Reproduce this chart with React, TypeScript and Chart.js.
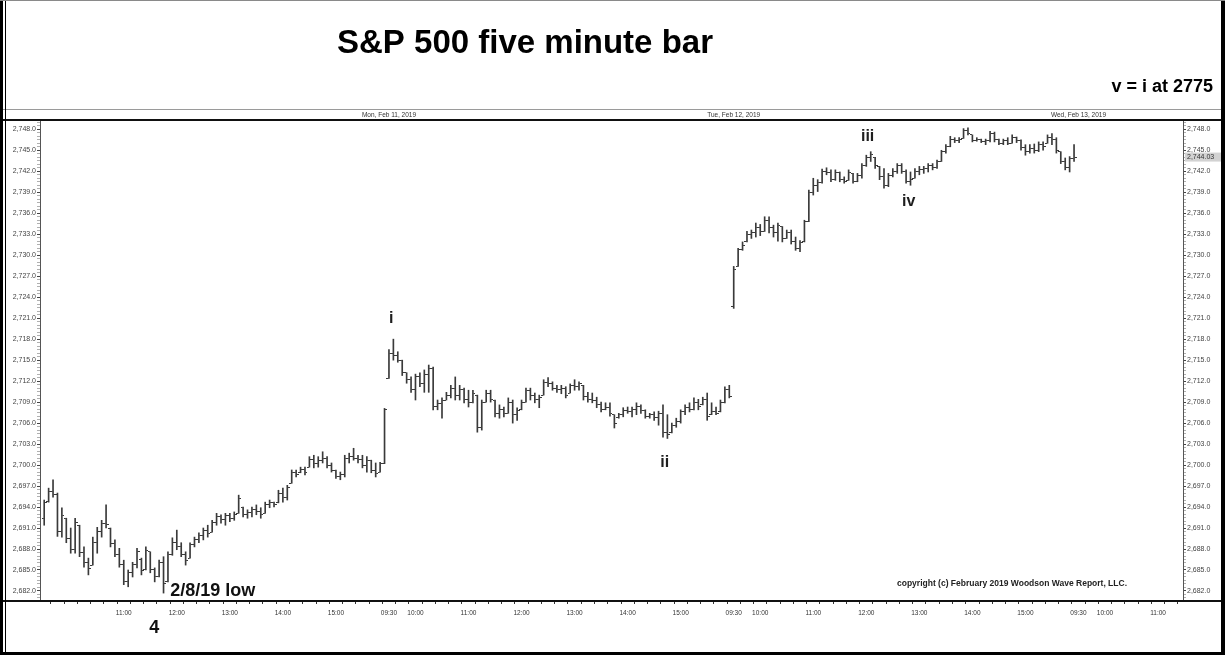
import React, { useEffect, useRef } from 'react';
import { Chart, registerables } from 'chart.js';

Chart.register(...registerables);

// ---------- data (S&P 500, five minute bars) ----------
const DAY_NAMES = ['Fri, Feb 8, 2019', 'Mon, Feb 11, 2019', 'Tue, Feb 12, 2019', 'Wed, Feb 13, 2019'];
const BARS_PER_DAY = 78;
const SESSION_LABELS: Record<number, string> = { 0: '09:30', 6: '10:00', 18: '11:00', 30: '12:00', 42: '13:00', 54: '14:00', 66: '15:00' };

const FEB08_HIGH = [
  2695.0, 2696.7, 2697.9, 2696.0, 2693.9, 2692.4, 2691.0, 2692.4, 2691.4, 2688.3,
  2686.7, 2689.7, 2691.1, 2692.1, 2694.3, 2691.0, 2689.3, 2688.1, 2686.4, 2685.0,
  2686.1, 2688.1, 2686.7, 2688.3, 2687.6, 2685.3, 2686.4, 2686.9, 2687.6, 2689.6,
  2690.7, 2688.9, 2687.6, 2688.9, 2689.7, 2690.3, 2691.0, 2691.4, 2692.1, 2693.1,
  2692.9, 2693.1, 2693.1, 2693.3, 2695.7, 2694.0, 2693.6, 2694.0, 2694.3, 2693.9,
  2694.7, 2695.0, 2694.7, 2696.4, 2696.7, 2697.1, 2699.3, 2699.3, 2699.7, 2699.7,
  2701.2, 2701.4, 2701.2, 2701.9, 2701.2, 2700.3, 2699.3, 2699.0, 2701.4, 2701.7,
  2702.4, 2701.4, 2701.4, 2701.2, 2700.7, 2700.3, 2700.4, 2708.1,
];
const FEB08_LOW = [
  2691.4, 2694.7, 2695.4, 2689.8, 2689.7, 2688.9, 2687.4, 2687.4, 2686.9, 2685.4,
  2684.3, 2685.7, 2687.4, 2689.7, 2691.0, 2688.3, 2686.9, 2685.4, 2682.9, 2682.6,
  2684.0, 2685.3, 2684.3, 2685.0, 2684.6, 2683.3, 2684.0, 2681.7, 2683.3, 2687.1,
  2687.9, 2686.9, 2685.7, 2686.7, 2688.3, 2688.9, 2689.3, 2689.7, 2690.4, 2691.4,
  2691.7, 2691.4, 2691.9, 2692.1, 2693.1, 2692.6, 2692.4, 2692.6, 2692.9, 2692.4,
  2693.1, 2693.9, 2694.0, 2694.6, 2694.7, 2695.0, 2697.4, 2698.3, 2698.9, 2698.6,
  2699.7, 2699.6, 2699.7, 2700.3, 2699.6, 2699.0, 2698.1, 2697.9, 2698.3, 2700.3,
  2700.7, 2700.3, 2699.6, 2699.0, 2698.9, 2698.3, 2699.0, 2700.2,
];
const FEB08_OPEN = [
  2692.4, 2694.8, 2696.2, 2695.8, 2690.5, 2692.4, 2689.5, 2688.0, 2691.4, 2687.5,
  2686.0, 2685.7, 2689.0, 2690.5, 2691.6, 2691.0, 2688.8, 2687.2, 2685.8, 2683.4,
  2684.6, 2685.8, 2686.5, 2685.0, 2687.6, 2685.0, 2684.0, 2686.0, 2683.3, 2687.2,
  2689.0, 2688.4, 2687.2, 2686.7, 2688.6, 2689.3, 2690.0, 2690.6, 2690.4, 2691.8,
  2692.6, 2692.2, 2692.8, 2692.4, 2693.1, 2694.0, 2693.0, 2693.2, 2693.6, 2693.4,
  2693.1, 2694.4, 2694.6, 2694.6, 2696.0, 2695.4, 2697.4, 2699.0, 2698.9, 2699.4,
  2699.7, 2700.8, 2700.2, 2700.6, 2701.0, 2699.9, 2699.2, 2698.4, 2698.6, 2701.0,
  2701.2, 2701.0, 2700.8, 2700.0, 2700.6, 2699.2, 2699.0, 2700.2,
];
const FEB08_CLOSE = [
  2694.6, 2696.2, 2695.8, 2690.5, 2692.8, 2689.5, 2688.0, 2691.8, 2687.5, 2686.0,
  2685.2, 2689.0, 2690.5, 2691.6, 2691.5, 2688.8, 2687.2, 2685.8, 2683.4, 2684.6,
  2685.8, 2687.6, 2684.9, 2687.8, 2685.0, 2684.0, 2686.0, 2683.0, 2687.2, 2689.0,
  2688.4, 2687.2, 2686.4, 2688.6, 2689.3, 2690.0, 2690.6, 2690.2, 2691.8, 2692.6,
  2692.2, 2692.8, 2692.4, 2693.0, 2695.2, 2693.0, 2693.2, 2693.6, 2693.4, 2693.0,
  2694.4, 2694.6, 2694.3, 2696.0, 2695.4, 2696.8, 2699.0, 2698.6, 2699.4, 2699.0,
  2700.8, 2700.2, 2700.6, 2701.0, 2699.9, 2699.2, 2698.4, 2698.6, 2701.0, 2701.2,
  2701.0, 2700.8, 2700.0, 2700.6, 2699.2, 2698.8, 2700.2, 2707.9,
];

const FEB11_HIGH = [
  2716.5, 2718.0, 2716.2, 2715.0, 2713.2, 2712.6, 2713.0, 2713.2, 2713.6, 2714.3,
  2714.0, 2709.3, 2709.6, 2710.4, 2711.4, 2712.6, 2711.4, 2711.0, 2710.7, 2710.7,
  2710.0, 2709.3, 2710.7, 2710.7, 2709.3, 2708.6, 2708.3, 2709.6, 2709.3, 2708.2,
  2709.3, 2711.0, 2711.0, 2710.3, 2710.0, 2712.2, 2712.5, 2711.9, 2711.4, 2711.4,
  2711.2, 2711.6, 2712.2, 2711.9, 2711.4, 2710.4, 2710.3, 2709.7, 2709.0, 2708.9,
  2708.9, 2707.2, 2707.4, 2708.2, 2708.3, 2708.3, 2708.9, 2708.6, 2707.9, 2707.4,
  2707.6, 2707.7, 2708.6, 2707.2, 2706.0, 2706.7, 2707.9, 2708.6, 2708.9, 2709.6,
  2709.4, 2709.7, 2710.3, 2708.9, 2708.3, 2709.3, 2711.2, 2711.4,
];
const FEB11_LOW = [
  2712.4, 2715.0, 2714.7, 2712.8, 2711.7, 2710.4, 2709.3, 2711.2, 2710.4, 2710.4,
  2707.9, 2707.9, 2706.7, 2709.3, 2709.6, 2709.3, 2709.3, 2708.9, 2708.3, 2708.9,
  2704.7, 2705.0, 2709.0, 2709.0, 2706.9, 2706.7, 2706.9, 2707.4, 2706.0, 2706.4,
  2707.9, 2709.0, 2709.3, 2708.9, 2708.2, 2710.0, 2711.2, 2710.7, 2710.4, 2710.2,
  2709.6, 2710.3, 2710.7, 2710.7, 2709.3, 2709.0, 2708.9, 2708.2, 2707.6, 2707.9,
  2707.0, 2705.3, 2706.7, 2706.9, 2707.4, 2706.9, 2707.2, 2707.4, 2706.7, 2706.7,
  2706.4, 2705.7, 2704.0, 2703.8, 2704.6, 2705.4, 2706.0, 2707.2, 2707.6, 2707.9,
  2707.9, 2708.6, 2706.4, 2707.2, 2707.2, 2707.6, 2708.9, 2709.6,
];
const FEB11_OPEN = [
  2712.4, 2716.0, 2715.6, 2715.0, 2713.2, 2712.2, 2710.8, 2712.6, 2711.6, 2713.0,
  2713.8, 2708.4, 2708.8, 2709.3, 2710.0, 2711.0, 2710.0, 2710.8, 2709.4, 2709.0,
  2710.0, 2705.4, 2709.0, 2710.2, 2709.3, 2707.4, 2708.0, 2707.4, 2709.0, 2707.2,
  2707.9, 2709.0, 2710.6, 2710.0, 2709.4, 2710.0, 2711.8, 2711.6, 2711.0, 2710.8,
  2711.0, 2710.3, 2711.4, 2711.2, 2711.4, 2709.8, 2709.4, 2709.2, 2708.6, 2708.0,
  2708.2, 2707.2, 2706.8, 2707.2, 2707.8, 2707.6, 2708.0, 2708.4, 2707.8, 2707.0,
  2707.2, 2706.8, 2707.4, 2704.6, 2704.6, 2705.6, 2706.2, 2707.6, 2708.2, 2708.0,
  2709.0, 2708.6, 2709.4, 2707.2, 2707.6, 2707.6, 2709.0, 2710.8,
];
const FEB11_CLOSE = [
  2716.0, 2715.6, 2715.0, 2713.2, 2712.2, 2710.8, 2712.6, 2711.6, 2713.0, 2713.8,
  2708.4, 2708.8, 2709.2, 2710.0, 2711.0, 2710.0, 2710.8, 2709.4, 2709.0, 2710.2,
  2705.4, 2709.0, 2710.2, 2709.4, 2707.4, 2708.0, 2707.4, 2709.0, 2707.2, 2707.8,
  2709.0, 2710.6, 2710.0, 2709.4, 2709.6, 2711.8, 2711.6, 2711.0, 2710.8, 2711.0,
  2710.0, 2711.4, 2711.2, 2711.6, 2709.8, 2709.4, 2709.2, 2708.6, 2708.0, 2708.2,
  2707.4, 2706.0, 2707.2, 2707.8, 2707.6, 2708.0, 2708.4, 2707.8, 2707.0, 2707.2,
  2706.8, 2707.4, 2704.6, 2704.4, 2705.6, 2706.2, 2707.6, 2708.2, 2708.0, 2709.0,
  2708.4, 2709.4, 2707.0, 2707.6, 2707.4, 2709.0, 2710.8, 2709.8,
];

const FEB12_HIGH = [
  2728.4, 2731.0, 2731.9, 2733.4, 2733.6, 2734.6, 2734.4, 2735.5, 2735.5, 2734.3,
  2734.6, 2734.1, 2733.6, 2733.6, 2732.6, 2732.1, 2735.0, 2739.3, 2741.0, 2740.8,
  2742.3, 2742.5, 2742.2, 2742.2, 2741.9, 2741.2, 2742.2, 2741.7, 2741.7, 2743.1,
  2744.3, 2744.8, 2744.0, 2742.7, 2742.4, 2741.7, 2742.4, 2743.1, 2743.1, 2742.2,
  2741.9, 2742.4, 2742.7, 2742.7, 2743.1, 2743.1, 2743.6, 2745.0, 2745.8, 2747.0,
  2746.8, 2746.8, 2748.1, 2748.2, 2747.2, 2746.8, 2746.6, 2746.6, 2747.7, 2747.6,
  2746.6, 2746.6, 2746.8, 2747.2, 2746.9, 2746.5, 2745.8, 2745.8, 2745.9, 2746.2,
  2746.2, 2747.2, 2747.4, 2746.8, 2744.8, 2743.9, 2744.1, 2745.8,
];
const FEB12_LOW = [
  2722.4, 2728.4, 2730.7, 2731.9, 2732.4, 2732.6, 2732.8, 2733.4, 2733.2, 2732.6,
  2732.0, 2731.9, 2732.4, 2731.6, 2730.7, 2730.5, 2731.9, 2734.8, 2738.6, 2739.1,
  2740.3, 2741.5, 2740.5, 2740.7, 2740.5, 2740.3, 2740.7, 2740.3, 2740.5, 2741.0,
  2742.7, 2743.4, 2742.4, 2740.8, 2739.6, 2739.8, 2741.2, 2741.7, 2741.7, 2740.3,
  2740.0, 2741.0, 2741.5, 2741.7, 2741.9, 2742.2, 2742.4, 2743.4, 2744.6, 2745.5,
  2746.1, 2746.1, 2746.7, 2747.2, 2746.2, 2746.3, 2746.1, 2745.8, 2746.2, 2746.2,
  2745.8, 2745.8, 2745.8, 2746.0, 2746.1, 2745.0, 2744.3, 2744.6, 2744.6, 2744.8,
  2745.0, 2746.0, 2745.8, 2744.6, 2743.1, 2742.2, 2741.9, 2743.4,
];
const FEB12_OPEN = [
  2722.6, 2728.4, 2730.8, 2731.9, 2733.0, 2733.2, 2734.0, 2733.4, 2735.0, 2734.0,
  2733.2, 2734.1, 2732.4, 2733.2, 2732.0, 2731.0, 2731.9, 2734.8, 2739.0, 2740.0,
  2740.4, 2742.0, 2741.8, 2740.8, 2741.8, 2740.8, 2740.7, 2741.7, 2740.6, 2741.4,
  2742.8, 2744.0, 2744.0, 2742.7, 2741.2, 2740.0, 2741.4, 2742.0, 2742.8, 2742.0,
  2740.6, 2741.0, 2742.0, 2742.2, 2742.4, 2742.8, 2742.6, 2743.4, 2744.8, 2745.6,
  2746.6, 2746.4, 2746.7, 2747.8, 2747.2, 2746.4, 2746.6, 2746.2, 2746.4, 2747.4,
  2746.6, 2746.0, 2746.4, 2746.0, 2746.8, 2746.4, 2745.4, 2744.8, 2745.2, 2745.0,
  2745.8, 2746.0, 2746.8, 2746.6, 2744.8, 2743.4, 2742.6, 2743.8,
];
const FEB12_CLOSE = [
  2728.0, 2730.8, 2731.4, 2733.0, 2733.2, 2734.0, 2733.4, 2735.0, 2734.0, 2733.2,
  2734.2, 2732.4, 2733.2, 2732.0, 2731.0, 2731.8, 2734.8, 2739.0, 2740.0, 2740.4,
  2742.0, 2741.8, 2740.8, 2741.8, 2740.8, 2740.6, 2741.8, 2740.6, 2741.4, 2742.8,
  2744.0, 2744.4, 2742.8, 2741.2, 2740.0, 2741.4, 2742.0, 2742.8, 2742.0, 2740.6,
  2740.8, 2742.0, 2742.2, 2742.4, 2742.8, 2742.6, 2743.4, 2744.8, 2745.6, 2746.6,
  2746.4, 2746.6, 2747.8, 2747.4, 2746.4, 2746.6, 2746.2, 2746.4, 2747.4, 2746.6,
  2746.0, 2746.4, 2746.0, 2746.8, 2746.4, 2745.4, 2744.8, 2745.2, 2745.0, 2745.8,
  2745.6, 2746.8, 2746.6, 2745.0, 2743.4, 2742.6, 2743.8, 2744.03,
];

const HIGH = [...FEB08_HIGH, ...FEB11_HIGH, ...FEB12_HIGH];
const LOW = [...FEB08_LOW, ...FEB11_LOW, ...FEB12_LOW];
const OPEN = [...FEB08_OPEN, ...FEB11_OPEN, ...FEB12_OPEN];
const CLOSE = [...FEB08_CLOSE, ...FEB11_CLOSE, ...FEB12_CLOSE];
const LAST_PRICE = CLOSE[CLOSE.length - 1];

// wave annotations: [text, bar index, price]
const WAVE_LABELS: [string, number, number][] = [
  ['i', 78.5, 2721.0],
  ['ii', 140.4, 2700.4],
  ['iii', 186.3, 2746.9],
  ['iv', 195.6, 2737.6],
];

// ---------- look ----------
const FONT = '"Liberation Sans", Arial, Helvetica, sans-serif';
const BAR_COLOR = '#3a3a3a';
const X_MIN = -0.95;
const X_MAX = 257.65;
const Y_MIN = 2680.71;
const Y_MAX = 2749.33;

const xTickValues = (() => {
  const out: number[] = [];
  for (let d = 0; d < 4; d++) {
    for (let k = 0; k < BARS_PER_DAY; k += 3) {
      const v = d * BARS_PER_DAY + k;
      if (v <= X_MAX) out.push(v);
    }
  }
  return out;
})();

const yTickValues = (() => {
  const out: number[] = [];
  for (let v = Math.ceil(Y_MIN * 2) / 2; v <= Y_MAX; v += 0.5) out.push(Math.round(v * 10) / 10);
  return out;
})();

const isMajorY = (v: number) => Math.abs(v / 3 - Math.round(v / 3)) < 1e-6;
const fmtPrice = (v: number, digits: number) =>
  Number(v).toLocaleString('en-US', { minimumFractionDigits: digits, maximumFractionDigits: digits });

const xLabel = (v: number) => {
  const d = Math.floor(v / BARS_PER_DAY);
  const k = Math.round(v - d * BARS_PER_DAY);
  if (d === 0 && k < 18) return '';
  return SESSION_LABELS[k] ?? '';
};

const decorPlugin = {
  id: 'decor',
  afterDraw(chart: any) {
    const { ctx, scales } = chart;
    const xs = scales.x;
    const ys = scales.y;
    ctx.save();

    // separator lines
    ctx.fillStyle = '#9a9a9a';
    ctx.fillRect(3, 109, 1218, 1);
    ctx.fillStyle = '#111';
    ctx.fillRect(3, 119, 1218, 2);
    ctx.fillRect(3, 600, 1218, 2);

    // frame
    ctx.fillStyle = '#000';
    ctx.fillRect(0, 0, 3, 655);
    ctx.fillRect(5, 0, 1, 655);
    ctx.fillRect(1221, 0, 4, 655);
    ctx.fillRect(0, 652, 1225, 3);
    ctx.fillStyle = '#8a8a8a';
    ctx.fillRect(0, 0, 1225, 1);

    // title & note
    ctx.fillStyle = '#000';
    ctx.textBaseline = 'alphabetic';
    ctx.textAlign = 'center';
    ctx.font = `bold 33px ${FONT}`;
    ctx.fillText('S&P 500 five minute bar', 525, 53);
    ctx.textAlign = 'right';
    ctx.font = `bold 18px ${FONT}`;
    ctx.fillText('v = i at 2775', 1213, 92);

    // day labels in the date band
    ctx.textAlign = 'center';
    ctx.textBaseline = 'middle';
    ctx.font = `6.5px ${FONT}`;
    ctx.fillStyle = '#333';
    for (let d = 1; d < DAY_NAMES.length; d++) {
      ctx.fillText(DAY_NAMES[d], xs.getPixelForValue(d * BARS_PER_DAY), 115);
    }

    // wave labels
    ctx.fillStyle = '#1e1e1e';
    ctx.font = `bold 16px ${FONT}`;
    WAVE_LABELS.forEach(([t, xv, yv]) => {
      ctx.fillText(t, xs.getPixelForValue(xv), ys.getPixelForValue(yv));
    });

    ctx.fillStyle = '#111';
    ctx.font = `bold 18px ${FONT}`;
    ctx.textAlign = 'left';
    ctx.fillText('2/8/19 low', xs.getPixelForValue(28.5), ys.getPixelForValue(2682.0));
    ctx.textAlign = 'center';
    ctx.fillText('4', xs.getPixelForValue(24.9), 628);

    ctx.textAlign = 'left';
    ctx.font = `bold 8.5px ${FONT}`;
    ctx.fillStyle = '#222';
    ctx.fillText('copyright (c) February 2019 Woodson Wave Report, LLC.', 897, 584);

    // last price marker on right axis
    const py = ys.getPixelForValue(LAST_PRICE);
    ctx.fillStyle = '#d2d2d2';
    ctx.fillRect(1185, py - 4.5, 36, 9);
    ctx.fillStyle = '#333';
    ctx.font = `7px ${FONT}`;
    ctx.fillText(fmtPrice(LAST_PRICE, 2), 1187, py);

    ctx.restore();
  },
};

export default function App() {
  const ref = useRef<HTMLCanvasElement | null>(null);

  useEffect(() => {
    document.body.style.margin = '0';
    const canvas = ref.current;
    if (!canvas) return;

    const makeTick = (left: boolean) => {
      const c = document.createElement('canvas');
      c.width = 5;
      c.height = 1;
      const g = c.getContext('2d')!;
      g.fillStyle = BAR_COLOR;
      g.fillRect(left ? 0 : 3, 0, 2, 1);
      return c;
    };
    const openTick = makeTick(true);
    const closeTick = makeTick(false);

    const yAxisCommon = (position: 'left' | 'right', width: number) => ({
      type: 'linear',
      position,
      min: Y_MIN,
      max: Y_MAX,
      afterBuildTicks: (s: any) => {
        s.ticks = yTickValues.map((v) => ({ value: v }));
      },
      afterFit: (s: any) => {
        s.width = width;
      },
      ticks: {
        autoSkip: false,
        padding: 1,
        color: '#444',
        font: { size: 7, family: FONT },
        callback: (v: any) => (isMajorY(Number(v)) ? fmtPrice(Number(v), 1) : ''),
      },
      grid: {
        drawOnChartArea: false,
        tickLength: 3,
        tickWidth: 1,
        tickColor: (c: any) => (c.tick && isMajorY(c.tick.value) ? '#444' : '#b0b0b0'),
      },
      border: { display: true, color: '#555', width: 1 },
    });

    const chart = new Chart(canvas, {
      type: 'bar',
      data: {
        datasets: [
          {
            type: 'scatter',
            label: 'Open',
            data: OPEN.map((o, i) => ({ x: i, y: o })),
            pointStyle: openTick as any,
            pointRadius: 3,
            showLine: false,
            order: 0,
          },
          {
            type: 'scatter',
            label: 'Close',
            data: CLOSE.map((c, i) => ({ x: i, y: c })),
            pointStyle: closeTick as any,
            pointRadius: 3,
            showLine: false,
            order: 0,
          },
          {
            type: 'bar',
            label: 'High-Low',
            data: HIGH.map((h, i) => ({ x: i, y: [LOW[i], h] })) as any,
            backgroundColor: BAR_COLOR,
            borderWidth: 0,
            barThickness: 1,
            grouped: false,
            order: 1,
          },
        ],
      },
      options: {
        responsive: false,
        animation: false,
        events: [],
        layout: { padding: { left: 0, right: 0, top: 120, bottom: 35 } },
        plugins: {
          legend: { display: false },
          tooltip: { enabled: false },
          title: { display: false },
        },
        scales: {
          x: {
            type: 'linear',
            min: X_MIN,
            max: X_MAX,
            offset: false,
            afterBuildTicks: (s: any) => {
              s.ticks = xTickValues.map((v) => ({ value: v }));
            },
            afterFit: (s: any) => {
              s.height = 20;
            },
            ticks: {
              autoSkip: false,
              maxRotation: 0,
              minRotation: 0,
              padding: 5,
              color: '#333',
              font: { size: 6.5, family: FONT },
              callback: (v: any) => xLabel(Number(v)),
            },
            grid: { drawOnChartArea: false, tickLength: 4, tickColor: '#333' },
            border: { display: false },
          },
          y: yAxisCommon('left', 40) as any,
          y2: yAxisCommon('right', 42) as any,
        },
      },
      plugins: [decorPlugin],
    });

    return () => chart.destroy();
  }, []);

  return (
    <div style={{ position: 'absolute', left: 0, top: 0, width: 1225, height: 655, background: '#fff' }}>
      <canvas ref={ref} width={1225} height={655} style={{ display: 'block', width: 1225, height: 655 }} />
    </div>
  );
}
